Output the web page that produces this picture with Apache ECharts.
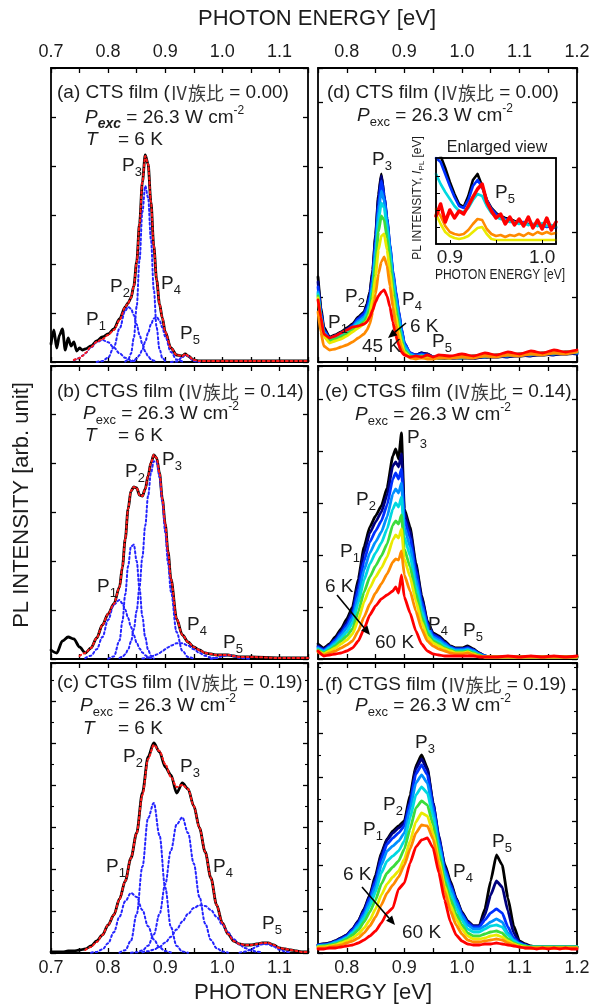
<!DOCTYPE html>
<html><head><meta charset="utf-8">
<script src="https://cdn.jsdelivr.net/npm/echarts@6/dist/echarts.min.js"></script>
<style>html,body{margin:0;padding:0;background:#fff}#c{width:593px;height:1008px}</style>
</head><body><div id="c"></div>
<script>
const _ = null;
// ---------- Panel (a) CTS, 6 K fit ----------
const A_E = [0.700,0.705,0.710,0.715,0.720,0.725,0.730,0.735,0.740,0.745,0.750,0.755,0.760,0.770,0.780,0.790,0.800,0.810,0.820,0.830,0.835,0.840,0.845,0.850,0.855,0.860,0.865,0.870,0.875,0.880,0.885,0.890,0.895,0.900,0.910,0.920,0.930,0.935,0.940,0.950,0.960,0.980,1.000,1.050,1.100,1.150];
const A_EXP = [18,32,14,27,33,12,24,16,20,11,14,12,13, 16,21,25,28,33,43,55, 59,64,76,100,138,180,207,198,160,116,82,58,44,30, 14,7,6,8,6,2,1, 1,1,1,1,1];
const A_FIT = [_,_,_,_,_,_,_,_,2,3,4,6,9, 15,20,23,27,32,42,55, 59,64,76,100,138,180,206,198,160,116,82,58,44,30, 14,7,6,8,6,2,1, 1,1,1,1,1];
const A_P1 = [_,_,_,_,_,_,_,_,1.7,2.7,4.2,6.2,8.7, 14.5,19.8,22,19.8,14.5,8.7,4.2, 2.7,1.7,1.0,0.5];
const A_P2 = [_,_,_,_,_,_,_,_,_,_,_,_,_, _,0.1,0.9,4.4,14.7,33.4,51.3, 55,53.3,47,37.5,27.2,17.9,10.6,5.8,2.8,1.3,0.5];
const A_P3 = [_,_,_,_,_,_,_,_,_,_,_,_,_, _,_,_,_,_,_,0.5, 2.2,8.2,23.9,55.4,102,150,176,164.6,122.5,72.6,34.3,12.9,3.9,0.9];
const A_P4 = [_,_,_,_,_,_,_,_,_,_,_,_,_, _,_,_,_,_,_,_, _,0.6,1.5,3.5,6.9,12.5,20.2,29.1,37.6,43.4,45,41.5,34.4,25.5, 10,2.5,0.4];
const A_P5 = [_,_,_,_,_,_,_,_,_,_,_,_,_, _,_,_,_,_,_,_, _,_,_,_,_,_,_,_,_,_,_,_,_,_, 0,0.5,4.8,7,5.9,0.9,0];
// ---------- Panel (b) CTGS 0.14, 6 K fit ----------
const B_E = [0.700,0.710,0.720,0.730,0.740,0.750,0.760,0.770,0.780,0.790,0.800,0.810,0.820,0.825,0.830,0.835,0.840,0.845,0.850,0.855,0.860,0.865,0.870,0.875,0.880,0.885,0.890,0.895,0.900,0.905,0.910,0.920,0.930,0.940,0.950,0.960,0.970,0.980,0.990,1.000,1.010,1.020,1.030,1.050,1.100,1.150];
const B_EXP = [9,6,18,22,20,12,6,11,21,34, 45,55,72,92,120,150,168,172,171,164, 163,170,183,196,204,201,186,160,135,107, 80,40,24,17,12,9,6,5,4,4, 4,3,2,2,1,1];
const B_FIT = [_,_,_,_,_,3,6,11,21,34, 45,55,72,92,120,150,168,172,171,164, 163,170,183,196,204,201,186,160,135,107, 80,40,24,17,12,9,6,5,4,4, 4,3,2,2,1,1];
const B_P1 = [_,_,_,_,_,_,0.9,3.3,9.7,22, 39,54.5,59,55.5,49.3,41,32,23.7,16.4,10.6, 6.5,3.7,2,1.0,0.5];
const B_P2 = [_,_,_,_,_,_,_,_,_,_, 0.2,2.6,18.4,37.7,64.5,92.9,112.4,114.4,97.9,70.4, 42.6,21.6,9.3,3.3,1];
const B_P3 = [_,_,_,_,_,_,_,_,_,_, _,_,1.0,2.2,4.7,9.3,17.3,29.8,48.2,72.4, 101.9,133.3,163,185.9,197.8,196.6,182,157.4,127,95.6, 67.2,26.9,8.2,1.9,0.3];
const B_P4 = [_,_,_,_,_,_,_,_,_,_, _,_,_,_,_,_,_,_,_,_, 0.5,0.8,1.4,2.2,3.2,4.5,6,7.8,9.7,11.6, 13.4,15.7,15.7,13.4,9.7,6,3.2,1.4,0.5];
const B_P5 = [_,_,_,_,_,_,_,_,_,_, _,_,_,_,_,_,_,_,_,_, _,_,_,_,_,_,_,_,_,_, _,_,_,_,_,_,_,0.2,1,2.8, 4,2.8,1,0];
// ---------- Panel (c) CTGS 0.19, 6 K fit ----------
const C_E = [0.70,0.71,0.72,0.73,0.74,0.75,0.76,0.77,0.78,0.79,0.80,0.81,0.82,0.83,0.84,0.85,0.86,0.87,0.88,0.89,0.90,0.91,0.92,0.93,0.94,0.95,0.96,0.97,0.98,0.99,1.00,1.01,1.02,1.03,1.04,1.05,1.06,1.07,1.08,1.09,1.10,1.11,1.12,1.13,1.14,1.15];
const C_EXP = [1,1,1,2,2,3,4,7,12,18, 28,38,54,72,95,120,160,196,210,201, 186,178,160,170,164,147,125,101,75,48, 30,19,12,9,8,8,9,10,10,8, 5,4,3,2,1,1];
const C_FIT = [_,_,_,_,_,_,3,6,11,18, 28,38,54,72,95,120,158,194,208,202, 189,176,166,168,164,147,125,101,75,48, 30,19,12,9,8,8,9,10,10,8, 5,4,3,2,1,1];
const C_P1 = [_,_,_,_,_,_,_,0.3,1.1,3.7, 9.7,20.8,36.4,51.7,60,56,43,26.7,13.5,5.6, 1.9,0.5];
const C_P2 = [_,_,_,_,_,_,_,_,_,_, _,_,0.4,2.8,12.4,38.9,86.2,135,150,117.7, 65.4,25.7,7.1,1.4,0.2];
const C_P3 = [_,_,_,_,_,_,_,_,_,_, _,_,_,_,0.2,0.7,2.5,7.3,18.4,38.9, 68.8,102.7,128.6,135.6,120,89.4,55.9,29.4,13,4.8, 1.5,0.4];
const C_P4 = [_,_,_,_,_,_,_,_,_,_, _,_,_,_,_,_,0.8,1.7,3.4,6.1, 10.4,16.2,23.5,31.5,39.1,45,47.8,47.1,43,36.2, 28.3,20.5,13.7,8.5,4.9,2.6,1.3,0.6];
const C_P5 = [_,_,_,_,_,_,_,_,_,_, _,_,_,_,_,_,_,_,_,_, _,_,_,_,_,_,_,_,_,_, _,_,_,0.4,1.4,3.4,6.4,8.7,8.7,6.4, 3.4,1.4,0.4];
// ---------- Panel (d) CTS, 6 K ... 45 K ----------
const D_E = [0.75,0.755,0.76,0.77,0.78,0.79,0.80,0.81,0.82,0.83,0.835,0.84,0.845,0.85,0.855,0.86,0.865,0.87,0.875,0.88,0.885,0.89,0.895,0.90,0.91,0.92,0.93,0.94,0.95,0.96,0.98,1.00,1.02,1.04,1.06,1.08,1.10,1.12,1.14,1.16,1.18,1.20];
const D_T1 = [85,55,35,25,27,30,34,38,45,50, 58,70,92,127,167,188,165,140,112,87,67,48,31,18, 8,7,9,8,5,4, 4,4,4,5,5,6,6,7,7,8,8,9];
const D_T2 = [80,52,33,24,26,29,33,37,44,49, 56,68,90,125,164,186,167,143,116,90,70,51,33,19, 9,7,9,8,5,4, 4,5,4,5,6,5,7,6,8,7,9,8];
const D_T3 = [75,50,32,24,26,29,32,36,43,48, 54,65,86,120,157,181,166,143,117,92,72,52,34,19, 9,7,8,7,5,5, 4,5,5,6,5,7,6,8,7,9,8,10];
const D_T4 = [70,47,30,23,25,28,31,35,41,45, 50,60,80,113,150,171,161,140,114,89,68,48,31,17, 8,6,7,6,5,4, 5,4,6,5,7,6,8,7,9,8,10,9];
const D_T5 = [68,45,29,22,24,27,30,34,39,43, 48,57,75,105,141,159,154,134,108,82,61,42,26,14, 7,5,6,5,4,5, 4,6,5,7,6,8,7,9,8,10,9,11];
const D_T6 = [66,44,28,21,23,25,28,32,36,40, 45,53,70,97,130,146,142,124,100,75,55,37,22,12, 6,5,6,5,4,4, 5,5,6,6,7,7,8,8,9,9,10,10];
const D_T7 = [64,42,26,19,21,23,26,30,34,38, 41,48,63,86,112,126,128,112,90,66,47,31,19,10, 5,4,5,4,4,5, 4,6,5,7,6,8,7,9,8,10,9,11];
const D_T8 = [50,30,16,12,13,15,17,20,24,28, 32,38,50,68,88,100,105,96,76,55,38,24,14,8, 4,3,4,3,3,4, 4,5,4,6,5,7,6,8,7,9,8,10];
const D_T9 = [62,45,28,24,26,29,32,35,36,38, 40,45,52,60,66,70,72,66,55,40,27,17,10,7, 5,6,5,7,5,7, 6,8,6,9,7,10,8,11,9,12,10,12];
// inset of (d): enlarged view around P5
const I_E = [0.885,0.89,0.895,0.90,0.905,0.91,0.915,0.92,0.925,0.93,0.935,0.94,0.945,0.95,0.955,0.96,0.965,0.97,0.975,0.98,0.985,0.99,0.995,1.00,1.005,1.01,1.015];
const I_T1 = [92,88,76,62,50,40,37,48,64,70,58,44,36,31,28,26,25,23,22,21,20,19,19,18,18,17,17];
const I_T3 = [86,82,70,58,47,38,36,44,58,64,57,44,35,30,27,25,24,22,21,22,19,20,18,19,17,18,16];
const I_T5 = [70,60,52,45,38,33,32,36,44,50,48,38,31,27,25,24,22,22,20,21,19,20,18,21,18,19,17];
const I_T7 = [30,20,12,8,6,5,6,8,12,16,17,10,5,4,4,4,4,4,4,4,4,4,4,4,4,4,4];
const I_T8 = [35,28,18,12,10,9,10,14,20,25,24,15,10,8,9,7,9,8,10,8,11,9,12,10,12,10,11];
const I_T9 = [28,40,22,34,26,33,30,38,47,55,60,42,33,26,30,20,27,19,25,18,27,16,24,15,26,14,22];
// ---------- Panel (e) CTGS 0.14, 6 K ... 60 K ----------
const E_E = [0.75,0.76,0.77,0.78,0.79,0.80,0.81,0.82,0.83,0.84,0.85,0.86,0.87,0.88,0.885,0.89,0.895,0.90,0.91,0.92,0.93,0.94,0.95,0.96,0.97,0.98,0.99,1.00,1.01,1.02,1.03,1.04,1.05,1.06,1.08,1.10,1.12,1.14,1.16,1.18,1.20];
const E_T1 = [15,11,15,22,30,40,52,80,112,132,143,153,171,203, 210,200,226,150, 132,96,64,38,26,23,18,13,11,11,13,10,6,3,2,2, 2,2,2,2,2,2,2];
const E_T2 = [13,10,14,20,28,37,49,76,106,126,137,147,164,193, 197,192,205,146, 128,93,62,37,25,22,17,12,10,10,12,9,6,3,2,2, 2,2,2,2,2,2,2];
const E_T3 = [12,9,13,19,26,34,45,70,98,117,128,138,154,180, 186,180,190,140, 121,88,58,35,24,21,16,12,10,10,11,9,5,3,2,2, 2,2,2,2,2,2,2];
const E_T4 = [11,8,12,17,24,31,41,63,89,106,117,127,142,165, 170,166,176,132, 112,81,53,32,22,19,15,11,9,9,10,8,5,3,2,2, 2,2,2,2,2,2,2];
const E_T5 = [10,7,11,15,21,27,36,56,79,95,106,116,130,150, 156,152,162,122, 103,74,48,29,20,17,13,10,8,8,9,7,4,2,2,2, 2,2,2,2,2,2,2];
const E_T6 = [9,6,9,13,18,23,30,47,67,82,93,103,115,134, 138,135,144,110, 92,66,42,26,18,15,11,9,7,7,8,6,4,2,2,2, 2,2,2,2,2,2,2];
const E_T7 = [8,5,8,11,15,19,25,39,57,71,82,91,102,119, 124,121,130,100, 82,58,37,22,16,13,10,8,6,6,7,5,3,2,2,2, 2,2,2,2,2,2,2];
const E_T8 = [7,4,6,8,11,14,18,28,42,55,66,75,85,97, 100,99,108,84, 68,48,30,18,13,10,8,6,5,5,6,4,3,2,2,2, 2,2,2,2,2,2,2];
const E_T9 = [8,3,4,5,6,8,11,18,30,44,53,60,64,68, 72,66,84,62, 46,28,15,8,5,4,3,3,3,3,3,3,2,2,2,2, 3,2,3,2,3,2,3];
// ---------- Panel (f) CTGS 0.19, 6 K ... 60 K ----------
const F_E = [0.75,0.76,0.77,0.78,0.79,0.80,0.81,0.82,0.83,0.84,0.85,0.86,0.87,0.88,0.89,0.90,0.91,0.92,0.93,0.94,0.95,0.96,0.97,0.98,0.99,1.00,1.01,1.02,1.03,1.04,1.05,1.06,1.07,1.08,1.09,1.10,1.11,1.12,1.13,1.14,1.15,1.16,1.17,1.18,1.19,1.20];
const F_T1 = [8,9,10,12,15,18,24,32,44,58, 78,100,114,122,127,132,158,187,198,185, 150,115,89,72,55,41,32,27,27,44, 72,98,88,55,27,12,9,7,6,6, 6,6,6,6,6,6];
const F_T2 = [8,9,10,12,15,18,24,32,43,57, 75,98,113,120,125,130,153,184,194,183, 150,117,87,70,54,40,31,27,27,38, 58,72,66,42,20,11,8,6,6,6, 6,6,6,6,6,6];
const F_T3 = [8,8,9,11,14,17,23,30,41,55, 72,94,109,115,120,127,150,179,188,178, 147,114,85,68,53,39,30,26,26,33, 40,44,40,26,15,10,8,6,6,6, 6,6,6,6,6,6];
const F_T4 = [7,8,9,11,13,16,21,28,38,51, 67,88,102,107,112,120,144,170,178,170, 142,110,82,65,50,37,28,24,24,27, 31,34,31,20,13,9,7,6,6,6, 6,6,6,6,6,6];
const F_T5 = [7,7,8,10,12,15,20,26,35,47, 61,80,92,97,102,112,135,158,166,160, 136,105,77,60,45,33,24,21,21,24, 27,28,26,18,12,9,7,6,6,6, 6,6,6,6,6,6];
const F_T6 = [6,7,8,9,11,14,18,23,31,41, 53,69,80,86,92,104,124,145,152,148, 128,99,72,54,39,28,20,17,17,19, 21,22,20,14,10,8,7,6,6,6, 6,6,6,6,6,6];
const F_T7 = [6,6,7,8,10,12,15,19,25,33, 44,58,69,76,82,94,112,131,140,137, 120,93,67,48,34,24,17,14,14,15, 17,18,16,12,9,7,6,5,5,5, 5,5,5,5,5,5];
const F_T8 = [5,5,6,7,8,10,12,15,20,27, 36,48,60,68,76,88,104,120,128,127, 114,88,62,42,28,19,13,11,11,12, 13,14,13,10,8,6,5,5,5,5, 5,5,5,5,5,5];
const F_T9 = [4,4,5,5,6,7,8,10,13,17, 22,30,40,45,64,70,90,106,113,115, 105,80,53,31,18,12,9,8,8,9, 9,10,9,8,7,6,5,5,4,5, 4,5,4,5,4,4];
// temperature colours (6 K -> highest T)
const T_COLORS = ['#000000','#00007e','#0030ff','#0090ff','#00d8e0','#3cdc3c','#eaea00','#ff8a00','#ff0000'];

// ================= rendering =================
const FF = "'Liberation Sans', Arial, Helvetica, sans-serif";
const CJK = "'Noto Sans CJK JP','Noto Sans CJK SC',sans-serif";
const TXT = '#1c1c1c';
const chart = echarts.init(document.getElementById('c'), null, {renderer: 'canvas'});

const COLS = [{left: 51, width: 257, min: 0.70, max: 1.15}, {left: 318, width: 259, min: 0.75, max: 1.20}];
const ROWS = [{top: 68, height: 294}, {top: 366, height: 293}, {top: 663, height: 290}];
const YMAX = [294, 293, 290, 294, 293, 290];
const YINT = [49, 49, 42, 65, 52, 44];
const MINOR = [false, false, true, false, false, true];

const grids = [], xAxes = [], yAxes = [], series = [];
const fmt = v => (Math.abs(v * 10 - Math.round(v * 10)) < 1e-6 ? v.toFixed(1) : '');
for (let c = 0; c < 2; c++) {
  for (let r = 0; r < 3; r++) {
    const g = c * 3 + r;
    grids.push({left: COLS[c].left, width: COLS[c].width, top: ROWS[r].top, height: ROWS[r].height, show: false, containLabel: false});
    ['bottom', 'top'].forEach(pos => {
      const showLab = (pos === 'top' && r === 0) || (pos === 'bottom' && r === 2);
      xAxes.push({type: 'value', gridIndex: g, position: pos, min: COLS[c].min, max: COLS[c].max, interval: 0.05,
        axisLine: {show: true, onZero: false, lineStyle: {color: '#000', width: 1.8}},
        axisTick: {show: true, inside: true, length: 5, lineStyle: {color: '#000', width: 1.3}},
        axisLabel: {show: showLab, formatter: fmt, fontSize: 18, fontFamily: FF, color: TXT, margin: pos === 'top' ? 7 : 6},
        splitLine: {show: false}});
    });
    ['left', 'right'].forEach(pos => {
      yAxes.push({type: 'value', gridIndex: g, position: pos, min: 0, max: YMAX[g], interval: YINT[g],
        axisLine: {show: true, onZero: false, lineStyle: {color: '#000', width: 1.8}},
        axisTick: {show: true, inside: true, length: 5, lineStyle: {color: '#000', width: 1.3}},
        minorTick: {show: MINOR[g], splitNumber: 2, length: 3, lineStyle: {color: '#000', width: 1.1}},
        axisLabel: {show: false}, splitLine: {show: false}});
    });
  }
}
// inset grid (index 6)
grids.push({left: 436, top: 158, width: 120, height: 86, show: true, backgroundColor: '#fff', borderColor: '#000', borderWidth: 1.5, z: 10});
xAxes.push({type: 'value', gridIndex: 6, position: 'bottom', min: 0.885, max: 1.015, z: 12,
  axisLine: {show: true, onZero: false, lineStyle: {color: '#000', width: 1.5}},
  axisTick: {show: true, inside: true, length: 4, customValues: [0.9, 0.95, 1.0], lineStyle: {color: '#000'}},
  axisLabel: {show: true, customValues: [0.9, 1.0], formatter: v => v.toFixed(1), fontSize: 19, fontFamily: FF, color: TXT, margin: 4},
  splitLine: {show: false}});
xAxes.push({type: 'value', gridIndex: 6, position: 'top', min: 0.885, max: 1.015, z: 12, axisLine: {show: true, onZero: false, lineStyle: {color: '#000', width: 1.5}}, axisTick: {show: false}, axisLabel: {show: false}, splitLine: {show: false}});
yAxes.push({type: 'value', gridIndex: 6, position: 'left', min: 0, max: 86, z: 12,
  axisLine: {show: true, onZero: false, lineStyle: {color: '#000', width: 1.5}},
  axisTick: {show: true, inside: true, length: 4, customValues: [17, 34, 51, 68], lineStyle: {color: '#000'}},
  axisLabel: {show: false}, splitLine: {show: false}});
yAxes.push({type: 'value', gridIndex: 6, position: 'right', min: 0, max: 86, z: 12, axisLine: {show: true, onZero: false, lineStyle: {color: '#000', width: 1.5}}, axisTick: {show: false}, axisLabel: {show: false}, splitLine: {show: false}});

const pairs = (xs, ys) => xs.map((x, i) => [x, (ys[i] === null || ys[i] === undefined) ? '-' : ys[i]]);
function line(g, xs, ys, color, width, type, smooth, z) {
  series.push({type: 'line', xAxisIndex: 2 * g, yAxisIndex: 2 * g, data: pairs(xs, ys), symbol: 'none', showSymbol: false,
    smooth: smooth, smoothMonotone: 'x', connectNulls: false, silent: true, animation: false, clip: true, z: z || 2,
    lineStyle: {color: color, width: width, type: type || 'solid', cap: 'round', join: 'round'}});
}
const BLUE = '#2424ff', RED = '#ff1a1a', DOT = [2, 2.6];
// left column fits
[[0, A_E, A_EXP, A_FIT, [A_P1, A_P2, A_P3, A_P4, A_P5]],
 [1, B_E, B_EXP, B_FIT, [B_P1, B_P2, B_P3, B_P4, B_P5]],
 [2, C_E, C_EXP, C_FIT, [C_P1, C_P2, C_P3, C_P4, C_P5]]].forEach(([g, xs, ex, fit, comps]) => {
  line(g, xs, ex, '#000', 2.8, 'solid', 0.3, 2);
  comps.forEach(cp => line(g, xs, cp, BLUE, 2, DOT, 0.35, 3));
  line(g, xs, fit, RED, 2, DOT, 0.3, 4);
});
// right column temperature series
[[3, D_E, [D_T1, D_T2, D_T3, D_T4, D_T5, D_T6, D_T7, D_T8, D_T9]],
 [4, E_E, [E_T1, E_T2, E_T3, E_T4, E_T5, E_T6, E_T7, E_T8, E_T9]],
 [5, F_E, [F_T1, F_T2, F_T3, F_T4, F_T5, F_T6, F_T7, F_T8, F_T9]]].forEach(([g, xs, list]) => {
  list.forEach((ys, k) => line(g, xs, ys, T_COLORS[k], 2.8, 'solid', 0.15, 2 + k * 0.01));
});
// inset
[[I_T1, 0], [I_T3, 2], [I_T5, 4], [I_T7, 6], [I_T8, 7], [I_T9, 8]].forEach(([ys, k]) => line(6, I_E, ys, T_COLORS[k], k === 8 ? 3.5 : 2.6, 'solid', 0, 11 + k * 0.01));

// ---------- annotations ----------
const RICH = {
  n: {fontFamily: FF, fontSize: 19, lineHeight: 26, fill: TXT},
  i: {fontFamily: FF, fontSize: 19, lineHeight: 26, fontStyle: 'italic', fill: TXT},
  s: {fontFamily: FF, fontSize: 13, lineHeight: 11, verticalAlign: 'bottom', fill: TXT},
  si: {fontFamily: FF, fontSize: 14, lineHeight: 11, verticalAlign: 'bottom', fontStyle: 'italic', fontWeight: 'bold', fill: TXT},
  u: {fontFamily: FF, fontSize: 12, lineHeight: 12, verticalAlign: 'top', fill: TXT},
  k: {fontFamily: CJK, fontSize: 18, lineHeight: 26, fill: '#3c3c3c'},
  t: {fontFamily: FF, fontSize: 22, lineHeight: 28, fill: TXT},
  m: {fontFamily: FF, fontSize: 12, lineHeight: 16, fill: TXT},
  mi: {fontFamily: FF, fontSize: 12, lineHeight: 16, fontStyle: 'italic', fill: TXT},
  ms: {fontFamily: FF, fontSize: 8, lineHeight: 8, verticalAlign: 'bottom', fill: TXT},
  e: {fontFamily: FF, fontSize: 16, lineHeight: 20, fill: TXT},
  x: {fontFamily: FF, fontSize: 14, lineHeight: 18, fill: TXT}
};
function tx(x, y, text, o) {
  o = o || {};
  return {type: 'text', x: x, y: y, rotation: o.rot || 0, scaleX: o.sx || 1, scaleY: o.sy || 1, z: 100, silent: true,
    style: {text: text, rich: RICH, textAlign: o.align || 'left', textVerticalAlign: 'middle', verticalAlign: 'middle', font: '19px ' + FF, fill: TXT}};
}
function arrow(x1, y1, x2, y2) {
  const a = Math.atan2(y2 - y1, x2 - x1), L = 9, W = 4;
  const bx = x2 - L * Math.cos(a), by = y2 - L * Math.sin(a);
  return [
    {type: 'line', z: 100, silent: true, shape: {x1: x1, y1: y1, x2: bx, y2: by}, style: {stroke: '#000', lineWidth: 1.6}},
    {type: 'polygon', z: 100, silent: true, shape: {points: [[x2, y2], [bx + W * Math.sin(a), by - W * Math.cos(a)], [bx - W * Math.sin(a), by + W * Math.cos(a)]]}, style: {fill: '#000'}}
  ];
}
const P = (n) => '{n|P}{s|' + n + '}';
const PEXC = '{i|P}{s|exc}{n| = 26.3 W cm}{u|-2}';
const graphics = [
  tx(317, 19, '{t|PHOTON ENERGY [eV]}', {align: 'center'}),
  tx(313, 993, '{t|PHOTON ENERGY [eV]}', {align: 'center'}),
  tx(22, 505, '{t|PL INTENSITY [arb. unit]}', {align: 'center', rot: Math.PI / 2}),
  // (a)
  tx(57, 93, '{n|(a) CTS film (}{k|Ⅳ族比}{n| = 0.00)}'),
  tx(85, 118, '{i|P}{si|exc}{n| = 26.3 W cm}{u|-2}'),
  tx(86, 140, '{i|T}'), tx(118, 140, '{n|= 6 K}'),
  tx(86, 320, P(1)), tx(110, 287, P(2)), tx(122, 166, P(3)), tx(161, 284, P(4)), tx(180, 334, P(5)),
  // (b)
  tx(57, 392, '{n|(b) CTGS film (}{k|Ⅳ族比}{n| = 0.14)}'),
  tx(83, 414, PEXC),
  tx(85, 436, '{i|T}'), tx(118, 436, '{n|= 6 K}'),
  tx(97, 587, P(1)), tx(125, 472, P(2)), tx(162, 460, P(3)), tx(187, 625, P(4)), tx(223, 643, P(5)),
  // (c)
  tx(57, 683, '{n|(c) CTGS film (}{k|Ⅳ族比}{n| = 0.19)}'),
  tx(80, 706, PEXC),
  tx(83, 729, '{i|T}'), tx(118, 729, '{n|= 6 K}'),
  tx(106, 867, P(1)), tx(123, 757, P(2)), tx(180, 767, P(3)), tx(213, 867, P(4)), tx(262, 924, P(5)),
  // (d)
  tx(327, 93, '{n|(d) CTS film (}{k|Ⅳ族比}{n| = 0.00)}'),
  tx(357, 116, PEXC),
  tx(328, 323, P(1)), tx(345, 297, P(2)), tx(372, 160, P(3)), tx(402, 300, P(4)), tx(432, 342, P(5)),
  tx(410, 327, '{n|6 K}'), tx(362, 347, '{n|45 K}'),
  tx(497, 148, '{e|Enlarged view}', {align: 'center'}),
  tx(495, 193, P(5)),
  tx(500, 275, '{x|PHOTON ENERGY [eV]}', {align: 'center', sx: 0.86}),
  tx(418, 198, '{m|PL INTENSITY, }{mi|I}{ms|PL}{m| [eV]}', {align: 'center', rot: Math.PI / 2}),
  // (e)
  tx(325, 392, '{n|(e) CTGS film (}{k|Ⅳ族比}{n| = 0.14)}'),
  tx(355, 415, PEXC),
  tx(340, 552, P(1)), tx(356, 500, P(2)), tx(407, 438, P(3)), tx(428, 625, P(4)), tx(463, 631, P(5)),
  tx(325, 587, '{n|6 K}'), tx(375, 643, '{n|60 K}'),
  // (f)
  tx(325, 685, '{n|(f) CTGS film (}{k|Ⅳ族比}{n| = 0.19)}'),
  tx(355, 706, PEXC),
  tx(363, 830, P(1)), tx(383, 805, P(2)), tx(415, 743, P(3)), tx(453, 872, P(4)), tx(492, 842, P(5)),
  tx(343, 875, '{n|6 K}'), tx(402, 933, '{n|60 K}')
].concat(arrow(406, 323, 388, 338), arrow(337, 595, 370, 635), arrow(362, 887, 395, 925));

chart.setOption({
  animation: false,
  backgroundColor: '#fff',
  grid: grids, xAxis: xAxes, yAxis: yAxes, series: series,
  graphic: {elements: graphics}
});
</script></body></html>
